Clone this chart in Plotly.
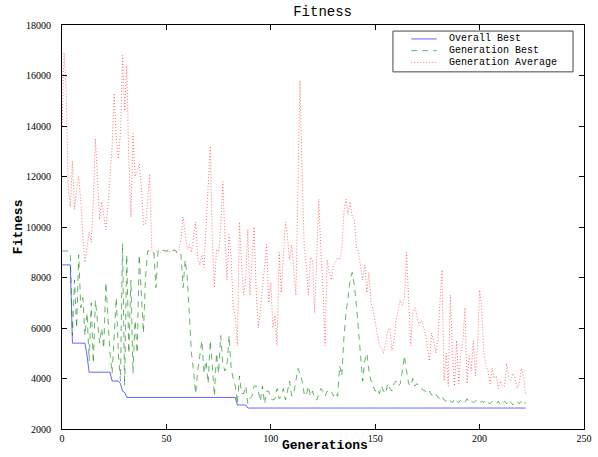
import plotly.graph_objects as go

# Per-generation fitness values (generations 0..222)
overall_best = [
    8500, 8500, 8500, 8500, 8500, 5400, 5400, 5400, 5400, 5400, 5400, 5400, 4900, 4250, 4250, 4250,
    4250, 4250, 4250, 4250, 4250, 4250, 4250, 4250, 3900, 3900, 3900, 3900, 3800, 3500, 3450, 3250,
    3250, 3250, 3250, 3250, 3250, 3250, 3250, 3250, 3250, 3250, 3250, 3250, 3250, 3250, 3250, 3250,
    3250, 3250, 3250, 3250, 3250, 3250, 3250, 3250, 3250, 3250, 3250, 3250, 3250, 3250, 3250, 3250,
    3250, 3250, 3250, 3250, 3250, 3250, 3250, 3250, 3250, 3250, 3250, 3250, 3250, 3250, 3250, 3250,
    3250, 3250, 3250, 3250, 2950, 2950, 2950, 2950, 2950, 2830, 2830, 2830, 2830, 2830, 2830, 2830,
    2830, 2830, 2830, 2830, 2830, 2830, 2830, 2830, 2830, 2830, 2830, 2830, 2830, 2830, 2830, 2830,
    2830, 2830, 2830, 2830, 2830, 2830, 2830, 2830, 2830, 2830, 2830, 2830, 2830, 2830, 2830, 2830,
    2830, 2830, 2830, 2830, 2830, 2830, 2830, 2830, 2830, 2830, 2830, 2830, 2830, 2830, 2830, 2830,
    2830, 2830, 2830, 2830, 2830, 2830, 2830, 2830, 2830, 2830, 2830, 2830, 2830, 2830, 2830, 2830,
    2830, 2830, 2830, 2830, 2830, 2830, 2830, 2830, 2830, 2830, 2830, 2830, 2830, 2830, 2830, 2830,
    2830, 2830, 2830, 2830, 2830, 2830, 2830, 2830, 2830, 2830, 2830, 2830, 2830, 2830, 2830, 2830,
    2830, 2830, 2830, 2830, 2830, 2830, 2830, 2830, 2830, 2830, 2830, 2830, 2830, 2830, 2830, 2830,
    2830, 2830, 2830, 2830, 2830, 2830, 2830, 2830, 2830, 2830, 2830, 2830, 2830, 2830, 2830,
]

generation_best = [
    9050, 9050, 9050, 9050, 8900, 5700, 7900, 6000, 8900, 6800, 7200, 5700, 6600, 4700, 7000, 4600,
    7100, 6300, 5400, 6000, 5200, 7800, 6300, 5000, 4200, 5500, 7200, 5000, 3900, 9350, 3700, 8900,
    5000, 7900, 4200, 6300, 5000, 8900, 7400, 5800, 8000, 9050, 9050, 9050, 9000, 7600, 9050, 9050,
    9100, 9050, 9050, 9100, 9050, 9050, 9100, 9000, 9050, 8900, 7600, 8700, 8000, 6500, 5000, 4300,
    3400, 4300, 5000, 5500, 4200, 4700, 3800, 5500, 4500, 3300, 5000, 4200, 5700, 4600, 4300, 4500,
    5700, 4400, 4000, 3700, 3000, 4100, 3400, 3400, 3700, 3000, 3200, 3300, 3700, 3700, 3500, 3100,
    3700, 3000, 3500, 3500, 3200, 3150, 3200, 3600, 3200, 3300, 3600, 3150, 3500, 3900, 3300, 3400,
    3900, 4400, 4200, 3900, 3400, 3300, 3700, 3300, 3500, 3200, 3150, 3400, 3600, 3500, 3300, 3500,
    3450, 3500, 3300, 3450, 3300, 4500, 4100, 5600, 6600, 7200, 7900, 8200, 7700, 6900, 5900, 5000,
    3900, 4700, 5000, 4300, 3900, 3700, 3500, 3600, 3400, 3700, 3500, 3400, 3800, 3600, 3500, 3800,
    3900, 3700, 3800, 4300, 4900, 4300, 3800, 3700, 4000, 3700, 3800, 3650, 3600, 3550, 3500, 3400,
    3500, 3350, 3300, 3400, 3250, 3200, 3300, 3150, 3100, 3200, 3100, 3050, 3200, 3100, 3050, 3150,
    3100, 3050, 3200, 3050, 3100, 3050, 3100, 3150, 3050, 3100, 3050, 3150, 3050, 3000, 3100, 3050,
    3000, 3100, 2950, 3050, 3100, 3000, 3150, 3050, 2950, 3050, 3100, 3000, 3100, 3150, 3000,
]

generation_average = [
    14000, 16900, 15500, 11500, 10800, 12600, 10700, 11500, 12000, 11000, 9600, 8600, 9200, 9800, 9400, 11000,
    13500, 12000, 10300, 11000, 10500, 9900, 10800, 12000, 13200, 15300, 13500, 12700, 13700, 16800, 14600, 16400,
    12700, 10400, 13700, 12000, 12200, 12500, 11600, 10100, 10100, 11000, 12100, 9100, 8900, 9000, 9100, 9000,
    9050, 9100, 9000, 9050, 9000, 9100, 9050, 9000, 9100, 9500, 10400, 9800, 9100, 9300, 9000, 9600,
    10200, 8800, 8500, 8900, 8400, 10000, 11500, 13200, 9500, 7600, 9100, 9000, 10000, 11800, 9700, 7900,
    9700, 8800, 6800, 6500, 5300, 10200, 8500, 7300, 8000, 9900, 7300, 8700, 10000, 7500, 6000, 6700,
    7600, 8200, 9300, 7000, 7800, 6000, 6500, 5300, 9000, 7400, 8700, 10200, 9600, 8700, 9300, 8400,
    7300, 11500, 15800, 12200, 9200, 8500, 7300, 8800, 8700, 6600, 9000, 11100, 9000, 7500, 5300, 8700,
    8200, 7900, 8500, 8600, 8800, 8700, 9100, 10600, 11100, 10500, 11000, 10400, 10300, 9200, 9000, 8500,
    7900, 8500, 7400, 8200, 7000, 6700, 6300, 5800, 5300, 5200, 5000, 5500, 5900, 6000, 5100, 5500,
    6300, 6700, 7100, 6900, 7200, 9000, 7000, 5300, 6600, 6800, 6500, 6100, 6300, 6000, 5800, 5200,
    4700, 5800, 5500, 5000, 5500, 7000, 8300, 3900, 5000, 3700, 7300, 5000, 3700, 5500, 3800, 5000,
    5500, 6800, 3800, 4900, 4300, 5500, 4100, 5200, 7500, 6800, 5000, 4500, 4300, 3800, 4400, 4000,
    4100, 3600, 3900, 3700, 3700, 4600, 4000, 3900, 4200, 4000, 3600, 3800, 4400, 4100, 3400,
]

generations = list(range(len(overall_best)))

x_ticks = [0, 50, 100, 150, 200, 250]
y_ticks = [2000, 4000, 6000, 8000, 10000, 12000, 14000, 16000, 18000]

series_names = ["Overall Best", "Generation Best", "Generation Average"]
series_colors = ["rgba(0,0,255,0.6)", "rgba(0,128,0,0.6)", "rgba(255,0,0,0.55)"]
series_dashes = ["solid", "6px,5px", "1px,2px"]

MONO = "Liberation Mono, Courier New, monospace"
SERIF = "Liberation Serif, DejaVu Serif, serif"

fig = go.Figure()
for name, ys, color, dash in zip(series_names,
                                 [overall_best, generation_best, generation_average],
                                 series_colors, series_dashes):
    fig.add_trace(go.Scatter(
        x=generations, y=ys, mode="lines", name=name, showlegend=False,
        line=dict(color=color, width=1, dash=dash),
    ))

# Compact boxed legend drawn in paper coordinates
leg_x0, leg_x1, leg_y0, leg_y1 = 0.634, 0.979, 0.884, 0.985
row_y = [0.9655, 0.9365, 0.9075]
shapes = [dict(type="rect", xref="paper", yref="paper", x0=leg_x0, x1=leg_x1, y0=leg_y0, y1=leg_y1,
               line=dict(color="#444444", width=1), fillcolor="white", layer="above")]
annotations = []
for name, color, dash, ry in zip(series_names, series_colors, series_dashes, row_y):
    shapes.append(dict(type="line", xref="paper", yref="paper", x0=0.669, x1=0.718, y0=ry, y1=ry,
                       line=dict(color=color, width=1, dash=dash), layer="above"))
    annotations.append(dict(xref="paper", yref="paper", x=0.7375, y=ry, text=name, showarrow=False,
                            xanchor="left", yanchor="middle", height=11, valign="middle",
                            font=dict(family=MONO, size=10, color="black")))

# Axis titles
annotations.append(dict(xref="paper", yref="paper", x=0.504, y=-0.04, text="<b>Generations</b>",
                        showarrow=False, xanchor="center", yanchor="middle",
                        font=dict(family=MONO, size=13, color="black")))
annotations.append(dict(xref="paper", yref="paper", x=-0.084, y=0.5, text="<b>Fitness</b>",
                        showarrow=False, xanchor="center", yanchor="middle", textangle=-90,
                        font=dict(family=MONO, size=13, color="black")))

axis_common = dict(
    showgrid=False, zeroline=False, showline=True, linecolor="black", linewidth=1,
    mirror="allticks", ticks="inside", ticklen=5, tickcolor="black", tickwidth=1,
    automargin=False,
    tickfont=dict(family=SERIF, size=10, color="black"),
)

fig.update_layout(
    width=598, height=457,
    margin=dict(l=62, r=14, t=25, b=28, autoexpand=False),
    paper_bgcolor="white", plot_bgcolor="white",
    title=dict(text="Fitness", x=0.5395, xanchor="center", y=0.975, yanchor="middle",
               font=dict(family=MONO, size=14, color="black")),
    xaxis=dict(range=[0, 250], tickvals=x_ticks, ticktext=[str(v) for v in x_ticks], **axis_common),
    yaxis=dict(range=[2000, 18000], tickvals=y_ticks, ticktext=[str(v) for v in y_ticks],
               ticklabelstandoff=8, **axis_common),
    shapes=shapes,
    annotations=annotations,
)

fig.write_html("out.html")
